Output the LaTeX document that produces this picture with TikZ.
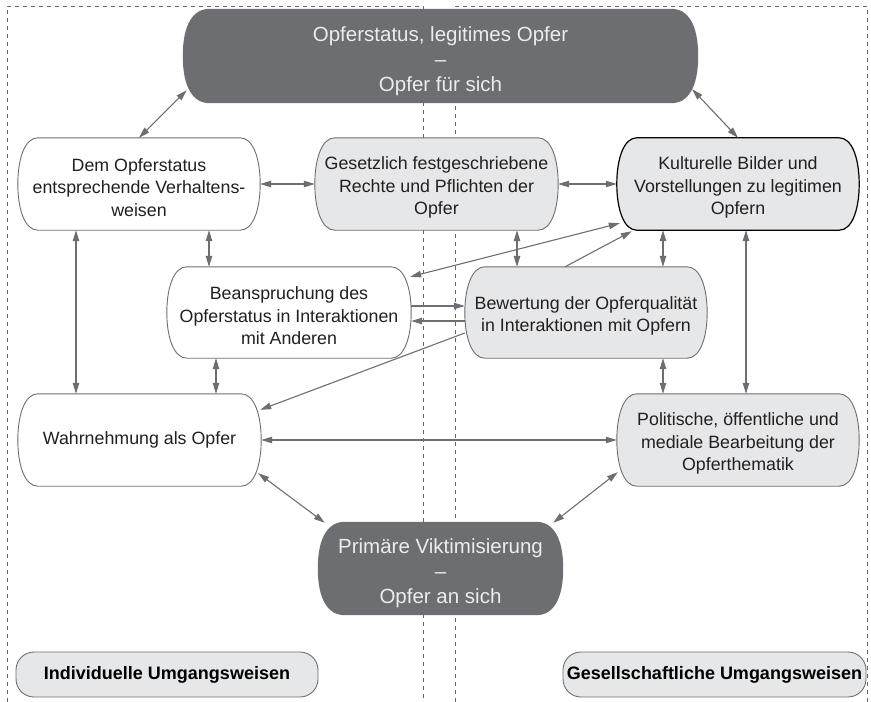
\documentclass[tikz,border=0pt]{standalone}
\usepackage{fontspec}
\setmainfont{Liberation Sans}
\usetikzlibrary{arrows.meta}
\pgfdeclarelayer{background}
\pgfsetlayers{background,main}
\definecolor{darkfill}{HTML}{6D6E71}
\definecolor{lightfill}{HTML}{E6E7E8}
\definecolor{linegray}{HTML}{6D6E71}
\definecolor{inktext}{HTML}{231F20}
\definecolor{paletext}{HTML}{ECECEC}
\definecolor{zonegray}{HTML}{666666}
% taller first line, so that multi-line texts sit a little lower in their boxes
\newcommand\firstline{\rule{0pt}{20pt}}
\newcommand\firstlinebig{\rule{0pt}{24.5pt}}

\begin{document}
\begin{tikzpicture}[x=1pt,y=-1pt,
  % outline with soft corners running into gently curved sides
  % #1 node, #2 corner length on the top edge, #3 first control offset,
  % #4 second control distance below the top
  tablet/.style n args={4}{insert path={
    ([shift={(#2,0)}]#1.north west)
    -- ([shift={(-#2,0)}]#1.north east)
    .. controls ([shift={(-#3,0)}]#1.north east)
           and ([shift={(0,#4)}]#1.north east) .. (#1.east)
    .. controls ([shift={(0,-#4)}]#1.south east)
           and ([shift={(-#3,0)}]#1.south east) .. ([shift={(-#2,0)}]#1.south east)
    -- ([shift={(#2,0)}]#1.south west)
    .. controls ([shift={(#3,0)}]#1.south west)
           and ([shift={(0,-#4)}]#1.south west) .. (#1.west)
    .. controls ([shift={(0,#4)}]#1.north west)
           and ([shift={(#3,0)}]#1.north west) .. ([shift={(#2,0)}]#1.north west)
    -- cycle}},
  box/.style={minimum width=242pt, minimum height=92pt, inner sep=0pt,
    align=center, text=inktext, font=\fontsize{17.8}{22.5}\selectfont},
  darkbox/.style={inner sep=0pt, align=center, text=paletext,
    font=\fontsize{20.5}{25}\selectfont},
  lightoutline/.style={draw=linegray, line width=0.9pt},
  legendbox/.style={draw=linegray, fill=lightfill, line width=0.9pt,
    rounded corners=18pt, minimum height=45pt, inner sep=0pt,
    font=\fontsize{18}{20}\selectfont\bfseries, text=black},
  tips/.tip={Triangle[length=11pt,width=6.5pt]},
  link/.style={draw=linegray, line width=1.1pt, tips-tips},
  oneway/.style={draw=linegray, line width=1.1pt, -tips},
  zone/.style={draw=zonegray, line width=0.9pt, dash pattern=on 4pt off 4pt},
]
\useasboundingbox (0,0) rectangle (871,702);

% texts of the boxes
\node[darkbox, minimum width=515pt, minimum height=94pt] (top) at (440.5,56)
  {\firstlinebig Opferstatus, legitimes Opfer\\–\\Opfer für sich};
\node[box] (dem) at (139,184)
  {\firstline Dem Opferstatus\\entsprechende Verhaltens-\\weisen};
\node[box, minimum width=243pt] (ges) at (436.5,184)
  {\firstline Gesetzlich festgeschriebene\\Rechte und Pflichten der\\Opfer};
\node[box] (kul) at (738,184)
  {\firstline Kulturelle Bilder und\\Vorstellungen zu legitimen\\Opfern};
\node[box, minimum width=244pt, minimum height=91pt] (bea) at (289,312.5)
  {\firstline Beanspruchung des\\Opferstatus in Interaktionen\\mit Anderen};
\node[box, minimum height=91pt] (bew) at (586,312.5)
  {\firstline Bewertung der Opferqualität\\in Interaktionen mit Opfern};
\node[box, minimum width=243pt] (wah) at (139.5,440)
  {Wahrnehmung als Opfer};
\node[box] (pol) at (738,440)
  {\firstline Politische, öffentliche und\\mediale Bearbeitung der\\Opferthematik};
\node[darkbox, minimum width=245pt, minimum height=93pt] (pri) at (440.5,568.5)
  {\firstlinebig Primäre Viktimisierung\\–\\Opfer an sich};
\node[legendbox, minimum width=302pt] (indiv) at (167,674.5)
  {Individuelle Umgangsweisen};
\node[legendbox, minimum width=303pt] (gesell) at (714.5,674.5)
  {Gesellschaftliche Umgangsweisen};

\begin{pgfonlayer}{background}
  % the two areas: individual and social ways of dealing
  \draw[zone] (7,702) -- (7,6) -- (423,6) -- (423,702);
  \draw[zone] (455,702) -- (455,6) -- (867,6) -- (867,702);
  % box outlines
  \path[fill=darkfill, tablet={top}{27}{10}{16}];
  \path[fill=darkfill, tablet={pri}{27}{10}{16}];
  \path[fill=white, lightoutline, tablet={dem}{20}{7}{21}];
  \path[fill=lightfill, lightoutline, tablet={ges}{20}{7}{21}];
  \path[fill=lightfill, draw=black, line width=1.2pt, tablet={kul}{20}{7}{21}];
  \path[fill=white, lightoutline, tablet={bea}{20}{7}{21}];
  \path[fill=lightfill, lightoutline, tablet={bew}{20}{7}{21}];
  \path[fill=white, lightoutline, tablet={wah}{20}{7}{21}];
  \path[fill=lightfill, lightoutline, tablet={pol}{20}{7}{21}];
\end{pgfonlayer}

% two-way connectors
\draw[link] ([shift={(4,-13)}]top.south west) -- (dem.north);
\draw[link] ([shift={(-6,-14)}]top.south east) -- (kul.north);
\draw[link] (dem.east) -- (ges.west);
\draw[link] (ges.east) -- (kul.west);
\draw[link] ([shift={(-63,0)}]dem.south) -- ([shift={(-63.5,0)}]wah.north);
\draw[link] ([shift={(70,0)}]dem.south) -- ([shift={(-80,0)}]bea.north);
\draw[link] ([shift={(80.5,0)}]ges.south) -- ([shift={(-69,0)}]bew.north);
\draw[link] ([shift={(-75,0)}]kul.south) -- ([shift={(77,0)}]bew.north);
\draw[link] ([shift={(8,0)}]kul.south) -- ([shift={(8,0)}]pol.north);
\draw[link] ([shift={(-73,0)}]bea.south) -- ([shift={(76.5,0)}]wah.north);
\draw[link] ([shift={(77,0)}]bew.south) -- ([shift={(-75,0)}]pol.north);
\draw[link] (wah.east) -- (pol.west);
\draw[link] ([shift={(-3,-13)}]wah.south east) -- ([shift={(7,1)}]pri.north west);
\draw[link] ([shift={(1,-14)}]pol.south west) -- ([shift={(-10,1)}]pri.north east);
\draw[link] ([shift={(-1,10)}]bea.north east) -- ([shift={(3,-7)}]kul.south west);

% one-way connectors
\draw[oneway] ([shift={(-21,0)}]bew.north) -- ([shift={(15,1)}]kul.south west);
\draw[oneway] ([shift={(0,-6.5)}]bea.east) -- ([shift={(0,-6.5)}]bew.west);
\draw[oneway] ([shift={(0,8.5)}]bew.west) -- ([shift={(0,8.5)}]bea.east);
\draw[oneway] ([shift={(0,20.5)}]bew.west) -- ([shift={(-1,16)}]wah.north east);
\end{tikzpicture}
\end{document}
